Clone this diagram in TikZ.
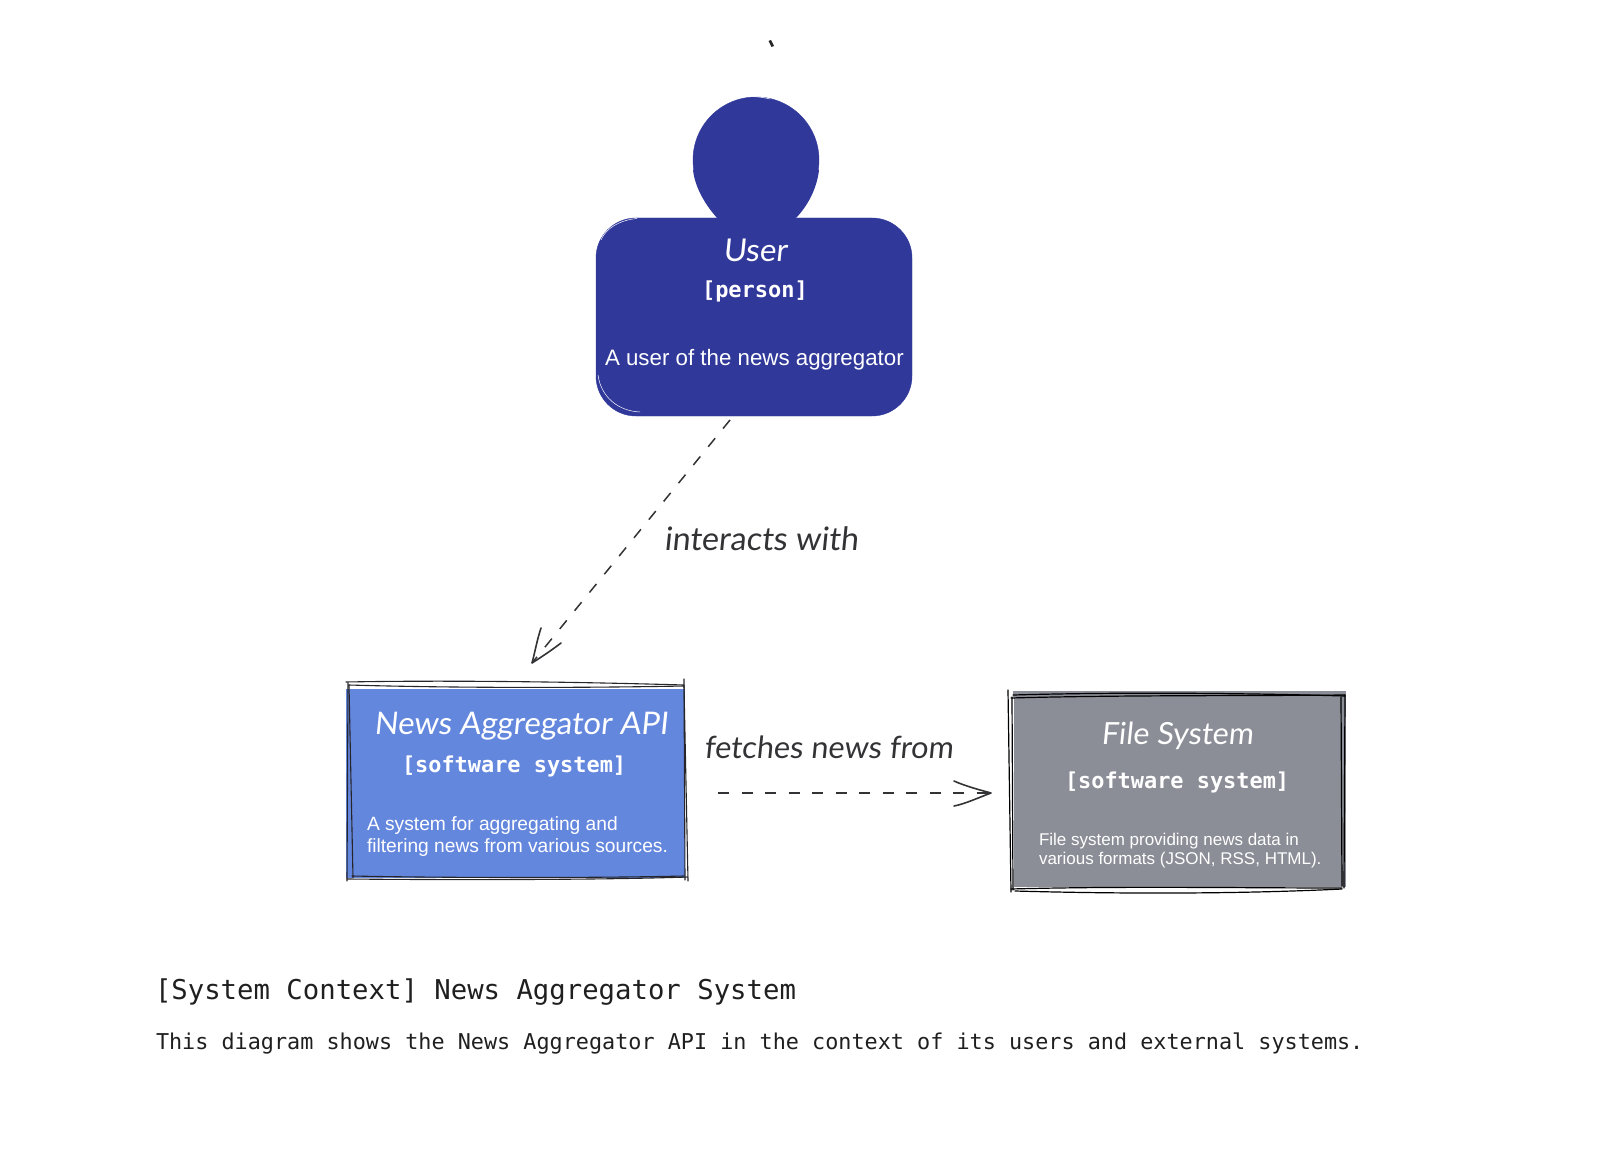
\documentclass[tikz,border=0pt]{standalone}
\usepackage{fontspec}
\usepackage{graphicx}
\setmainfont{Liberation Sans}
\newfontfamily\monof{DejaVu Sans Mono}
\newfontfamily\handf[FakeSlant=0.1]{Lato}
\definecolor{userblue}{HTML}{30389A}
\definecolor{apiblue}{HTML}{6487DE}
\definecolor{fsgray}{HTML}{8B8E96}
\definecolor{ink}{HTML}{333336}
\definecolor{ink3}{HTML}{26262A}
\newcommand{\fitw}[2]{\resizebox{#1pt}{!}{#2}}
\tikzset{
  x=1pt,y=-1pt,
  txt/.style={inner sep=0pt,outer sep=0pt,anchor=base west,text=white},
  lab/.style={inner sep=0pt,outer sep=0pt,anchor=base west,text=ink},
  para/.style={inner sep=0pt,outer sep=0pt,anchor=north west,text=white,align=left},
  ink1/.style={draw=ink3,line width=1.1pt,line cap=round},
  ink2/.style={draw=black,line width=1.2pt,line cap=round},
  conn/.style={draw=ink,line width=1.5pt,dash pattern=on 11pt off 12.5pt},
  hd/.style={draw=ink,line width=1.6pt,line cap=round,line join=round}
}
\begin{document}
\begin{tikzpicture}
\useasboundingbox (0,0) rectangle (1610,1166);
\fill[black!85] (768.5,41) -- (771,40) -- (774,46) -- (771.5,47) -- cycle;
% user
\node[circle,fill=userblue,draw=userblue,inner sep=0pt,minimum size=126pt] (head) at (756,160) {};
\fill[userblue] (693,170) .. controls (695,188) and (706,206) .. (718,219) -- (795,219) .. controls (808,206) and (817,188) .. (819,170) -- cycle;
\node[rectangle,rounded corners=40pt,fill=userblue,draw=userblue,inner sep=0pt,minimum width=316pt,minimum height=198pt] (body) at (754,317) {};
\draw[white,line width=.5pt] (601,240) .. controls (606,228) and (620,220) .. (637,218.5);
\draw[white,line width=.5pt] (598,375) .. controls (601,397) and (618,411) .. (640,412);
\draw[white,line width=.5pt] (717,99) .. controls (735,95) and (760,96) .. (770,99);
\node[txt] (utitle) at (723,262) {\fitw{64}{\handf\fontsize{28}{32}\selectfont User}};
\node[txt] (utype) at (702,298) {\monof\bfseries\fontsize{22}{24}\selectfont [person]};
\node[txt] (udesc) at (605,366) {\fontsize{22.3}{26}\selectfont A user of the news aggregator};
% api
\node[rectangle,fill=apiblue,inner sep=0pt,minimum width=339pt,minimum height=189pt] (api) at (515,783) {};
\draw[white,line width=1.6pt] (350,686) -- (683,687);
\draw[ink1] (346,682) .. controls (450,680) and (580,682) .. (684,685);
\draw[ink1] (349,685) .. controls (450,688) and (580,688) .. (684,686);
\draw[ink1] (348,683) -- (347,881);
\draw[ink1] (349,685) -- (353,878);
\draw[ink1] (684,679) -- (685,880);
\draw[ink1] (684,686) -- (688,881);
\draw[ink1] (347,879) .. controls (450,880) and (600,880) .. (688,877);
\draw[ink1] (352,876) .. controls (450,878) and (600,878) .. (684,876);
\node[txt] (atitle) at (374,734) {\fitw{294}{\handf\fontsize{28}{32}\selectfont News Aggregator API}};
\node[txt] (atype) at (402,772) {\monof\bfseries\fontsize{21.9}{24}\selectfont [software system]};
\node[para,font=\fontsize{19.2}{22}\selectfont] (adesc) at (367,817) {A system for aggregating and\\filtering news from various sources.};
% file system
\node[rectangle,fill=fsgray,inner sep=0pt,minimum width=333pt,minimum height=196pt] (fs) at (1179,789) {};
\fill[white] (1009,697) rectangle (1013.5,890);
\draw[ink2] (1008,690) -- (1011,892);
\draw[ink2] (1012,697) -- (1013,890);
\draw[ink2] (1011,698) .. controls (1120,695) and (1240,696) .. (1345,695);
\draw[ink2] (1013,695) .. controls (1120,692) and (1240,693) .. (1345,696);
\draw[ink2] (1345,695) -- (1344,888);
\draw[ink2] (1341,697) -- (1342,886);
\draw[ink2] (1011,889) .. controls (1120,886) and (1240,888) .. (1342,888);
\draw[ink2] (1015,891) .. controls (1120,894) and (1240,894) .. (1342,889);
\node[txt] (ftitle) at (1101,744) {\fitw{152}{\handf\fontsize{28}{32}\selectfont File System}};
\node[txt] (ftype) at (1065,788) {\monof\bfseries\fontsize{21.9}{24}\selectfont [software system]};
\node[para,font=\fontsize{17}{19}\selectfont] (fdesc) at (1039,833) {File system providing news data in\\various formats (JSON, RSS, HTML).};
% connectors
\coordinate (c1s) at (730,420);
\coordinate (c1e) at (532,663);
\coordinate (c1a) at (541,628);
\coordinate (c1b) at (561,643);
\draw[conn] (c1s) -- (c1e);
\draw[hd] (c1a) .. controls (537,640) and (535,652) .. (c1e) .. controls (540,658) and (552,650) .. (c1b);
\node[lab] (l1) at (664,550) {\fitw{194}{\handf\fontsize{28}{32}\selectfont interacts with}};
\coordinate (c2s) at (718,793);
\coordinate (c2e) at (991,793);
\coordinate (c2a) at (954,781);
\coordinate (c2b) at (954,806);
\draw[conn] (c2s) -- (c2e);
\draw[hd] (c2a) .. controls (965,786) and (980,790) .. (c2e) .. controls (980,797) and (965,804) .. (c2b);
\node[lab] (l2) at (704,758) {\fitw{249}{\handf\fontsize{28}{32}\selectfont fetches news from}};
% titles
\node[lab,text=black!88] (title) at (155,999) {\monof\fontsize{27.3}{32}\selectfont [System Context] News Aggregator System};
\node[lab,text=black!88] (desc) at (156,1049) {\monof\fontsize{21.8}{26}\selectfont This diagram shows the News Aggregator API in the context of its users and external systems.};
\end{tikzpicture}
\end{document}
